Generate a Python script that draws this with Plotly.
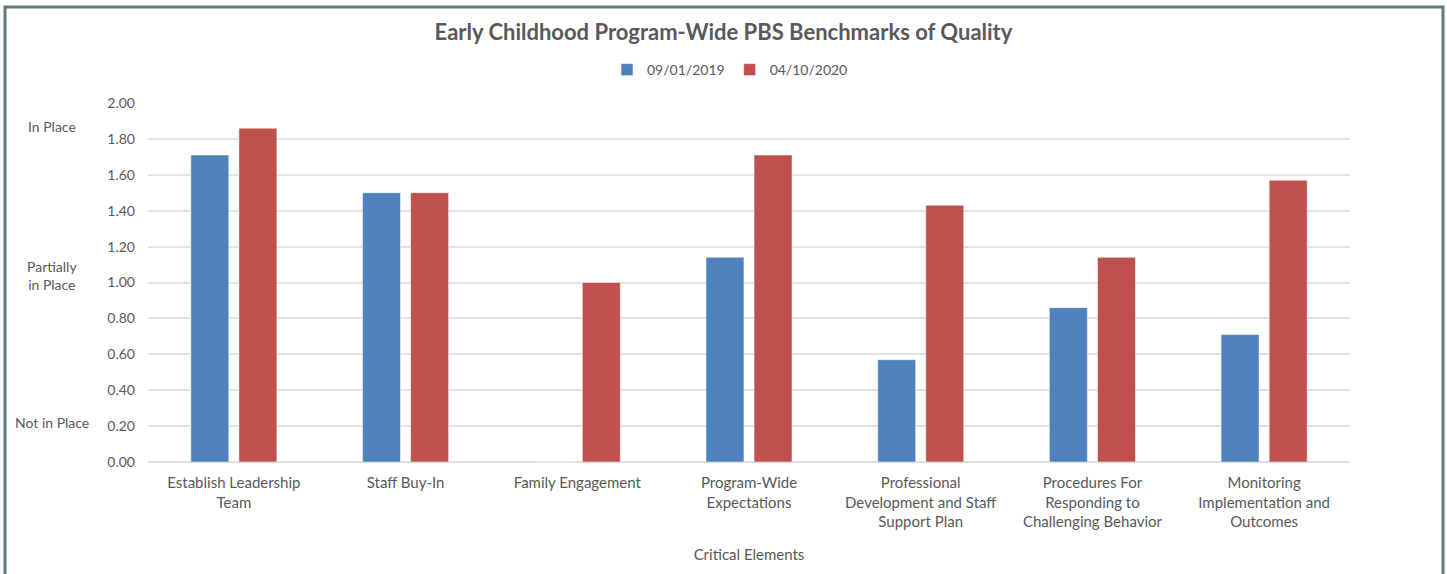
import plotly.graph_objects as go

# Данные диаграммы
categories = [
    "Establish Leadership<br>Team",
    "Staff Buy-In",
    "Family Engagement",
    "Program-Wide<br>Expectations",
    "Professional<br>Development and Staff<br>Support Plan",
    "Procedures For<br>Responding to<br>Challenging Behavior",
    "Monitoring<br>Implementation and<br>Outcomes",
]
series_names = ["09/01/2019", "04/10/2020"]
values_2019 = [1.71, 1.50, 0.00, 1.14, 0.57, 0.86, 0.71]
values_2020 = [1.86, 1.50, 1.00, 1.71, 1.43, 1.14, 1.57]
y_ticks = [0.0, 0.2, 0.4, 0.6, 0.8, 1.0, 1.2, 1.4, 1.6, 1.8, 2.0]
level_labels = ["In Place", "Partially<br>in Place", "Not in Place"]
level_values = [1.87, 1.04, 0.22]

W, H = 1447, 574
L, R, T, B = 148, 97, 103, 112
FONT = "Lato, 'Open Sans', sans-serif"
GREY = "#595959"
pw, ph = W - L - R, H - T - B

fig = go.Figure()
for name, vals, col in [(series_names[0], values_2019, "#4f81bd"),
                        (series_names[1], values_2020, "#c0504d")]:
    fig.add_trace(go.Bar(
        x=categories, y=vals, name=name,
        marker=dict(color=col, line=dict(color="rgba(255,255,255,0.5)", width=1)),
    ))

# Подписи уровней слева от оси Y
for txt, yv in zip(level_labels, level_values):
    fig.add_annotation(text=txt, x=(52 - L) / pw, xref="paper", xanchor="center",
                       y=yv, yref="y", showarrow=False,
                       font=dict(size=14, color=GREY, family=FONT))

# Рамка вокруг диаграммы
fig.add_shape(type="rect", xref="paper", yref="paper",
              x0=(5 - L) / pw, x1=(1443 - L) / pw,
              y0=-(B + 20) / ph, y1=(H - B - 7) / ph,
              line=dict(color="#5f7a78", width=3))

fig.update_layout(
    width=W, height=H,
    margin=dict(l=L, r=R, t=T, b=B),
    plot_bgcolor="white", paper_bgcolor="white",
    font=dict(family=FONT, size=14, color=GREY),
    title=dict(text="<b>Early Childhood Program-Wide PBS Benchmarks of Quality</b>",
               x=0.5, xanchor="center", y=1 - 32 / H, yanchor="middle",
               font=dict(size=22, color=GREY, family=FONT)),
    legend=dict(orientation="h", x=(730 - L) / pw, xanchor="center",
                y=(H - B - 70) / ph, yanchor="middle",
                font=dict(size=14, color=GREY), itemwidth=30),
    bargap=0.44, bargroupgap=0.21,
    showlegend=True,
)
fig.update_yaxes(range=[0, 2.0], tickvals=y_ticks, tickformat=".2f",
                 tickfont=dict(size=14),
                 showgrid=True, gridcolor="#e3e3e3", gridwidth=1.5,
                 zeroline=True, zerolinecolor="#e0e0e0", zerolinewidth=1.5,
                 ticklabelstandoff=12, showline=False)
fig.update_xaxes(title=dict(text="Critical Elements", standoff=20,
                            font=dict(size=15, color=GREY)),
                 tickfont=dict(size=15),
                 showline=False, ticklabelstandoff=10, tickangle=0)

fig.write_html("out.html", config={"displayModeBar": False},
               post_script="document.body.style.margin='0';")
